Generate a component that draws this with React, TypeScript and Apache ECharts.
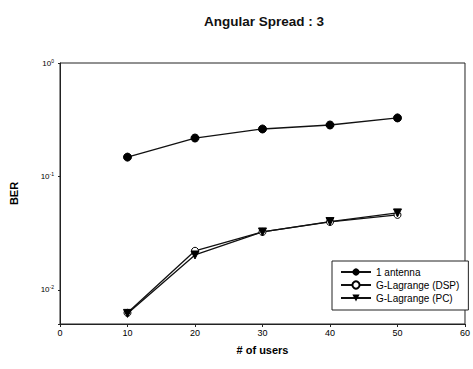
import React, { useEffect, useRef } from "react";
import * as echarts from "echarts";

const users = [10, 20, 30, 40, 50];
const oneAntenna = [0.148, 0.218, 0.262, 0.284, 0.328];
const gLagrangeDSP = [0.00627, 0.0221, 0.0324, 0.0397, 0.0458];
const gLagrangePC = [0.0062, 0.0203, 0.0324, 0.04, 0.0477];
const seriesNames = ["1 antenna", "G-Lagrange (DSP)", "G-Lagrange (PC)"];

const FONT = "'Liberation Sans', Arial, sans-serif";

export default function App() {
  const ref = useRef<HTMLDivElement>(null);
  useEffect(() => {
    if (!ref.current) return;
    const chart = echarts.init(ref.current, null, { renderer: "svg" });
    const pair = (ys: number[]) => users.map((x, i) => [x, ys[i]]);
    chart.setOption({
      animation: false,
      backgroundColor: "#ffffff",
      textStyle: { fontFamily: FONT, color: "#000" },
      title: {
        text: "Angular Spread : 3",
        left: 259,
        top: 9,
        textAlign: "center",
        textStyle: { fontFamily: FONT, fontSize: 13.5, fontWeight: "bold", color: "#111" },
      },
      grid: {
        left: 58,
        right: 5,
        top: 63,
        bottom: 45,
        show: true,
        borderColor: "#222",
        borderWidth: 1,
        backgroundColor: "transparent",
      },
      legend: {
        orient: "vertical",
        left: 332,
        top: 261,
        padding: [6, 9, 7, 8],
        itemGap: 3,
        itemWidth: 30,
        itemHeight: 9,
        backgroundColor: "#fff",
        borderColor: "#222",
        borderWidth: 1,
        borderRadius: 0,
        data: seriesNames,
        textStyle: { fontFamily: FONT, fontSize: 10, color: "#000" },
      },
      xAxis: {
        type: "value",
        min: 0,
        max: 60,
        interval: 10,
        name: "# of users",
        nameLocation: "middle",
        nameGap: 20,
        nameTextStyle: { fontFamily: FONT, fontSize: 11, fontWeight: "bold", color: "#000" },
        axisLine: { show: true, lineStyle: { color: "#222", width: 1 } },
        axisTick: { show: true, length: 3, lineStyle: { color: "#222" } },
        axisLabel: { fontFamily: FONT, fontSize: 9, color: "#000", margin: 4 },
        splitLine: { show: false },
      },
      yAxis: {
        type: "log",
        logBase: 10,
        min: 0.005,
        max: 1,
        name: "BER",
        nameLocation: "middle",
        nameGap: 41,
        nameTextStyle: { fontFamily: FONT, fontSize: 11, fontWeight: "bold", color: "#000" },
        axisLine: { show: true, lineStyle: { color: "#222", width: 1 } },
        axisTick: { show: true, length: 2, lineStyle: { color: "#222" } },
        minorTick: { show: false },
        splitLine: { show: false },
        axisLabel: {
          margin: 6,
          formatter: (v: number) => {
            const l = Math.log10(v);
            const n = Math.round(l);
            if (Math.abs(l - n) > 0.01) return "";
            const e = n === 0 ? "0" : "-" + Math.abs(n);
            return "{b|10}{s|" + e + "}";
          },
          rich: {
            b: { fontFamily: FONT, fontSize: 8, color: "#000" },
            s: { fontFamily: FONT, fontSize: 5, color: "#000", verticalAlign: "bottom", padding: [0, 0, 5, 0] },
          },
        },
      },
      series: [
        {
          name: seriesNames[0],
          type: "line",
          data: pair(oneAntenna),
          symbol: "circle",
          symbolSize: 8,
          itemStyle: { color: "#000", borderColor: "#000" },
          lineStyle: { color: "#111", width: 1.3 },
        },
        {
          name: seriesNames[1],
          type: "line",
          data: pair(gLagrangeDSP),
          symbol: "circle",
          symbolSize: 7,
          itemStyle: { color: "#fff", borderColor: "#000", borderWidth: 1 },
          lineStyle: { color: "#111", width: 1.3 },
        },
        {
          name: seriesNames[2],
          type: "line",
          data: pair(gLagrangePC),
          symbol: "triangle",
          symbolRotate: 180,
          symbolSize: 8,
          itemStyle: { color: "#000", borderColor: "#000" },
          lineStyle: { color: "#111", width: 1.3 },
        },
      ],
    });
    return () => chart.dispose();
  }, []);
  return (
    <div
      ref={ref}
      style={{ position: "fixed", left: 0, top: 0, width: 473, height: 369, background: "#fff" }}
    />
  );
}
